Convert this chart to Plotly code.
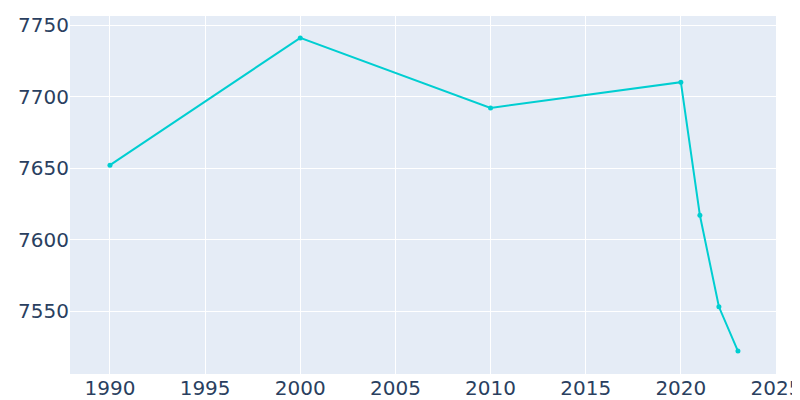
import plotly.graph_objects as go

years = [1990, 2000, 2010, 2020, 2021, 2022, 2023]
population = [7652, 7741, 7692, 7710, 7617, 7553, 7522]

fig = go.Figure(go.Scatter(x=years, y=population, mode="lines+markers",
                           line=dict(color="#00CED1", width=2),
                           marker=dict(size=5, color="#00CED1")))
fig.update_layout(width=800, height=400, template="plotly",
                  margin=dict(l=62, r=32, t=8, b=34),
                  font=dict(family="DejaVu Sans", size=20, color="#2a3f5f"),
                  showlegend=False)
fig.update_xaxes(range=[1987.9, 2025], dtick=5, automargin=False)
fig.update_yaxes(range=[7506, 7756.3], dtick=50, automargin=False)
fig.write_html("out.html")
